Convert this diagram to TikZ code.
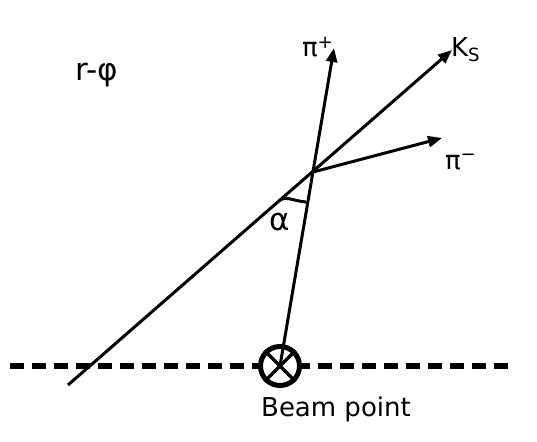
\documentclass[tikz,border=0pt]{standalone}
\usepackage{fontspec}
\setmainfont{DejaVu Sans}
\usetikzlibrary{arrows.meta}
\begin{document}
\begin{tikzpicture}[x=0.5pt,y=-0.5pt,font=\fontsize{13}{15}\selectfont,
  trk/.style={line width=1.5pt},
  trkarrow/.style={trk,-{Triangle[length=7pt,width=5.5pt]}},
  biglbl/.style={font=\fontsize{15.5}{18}\selectfont}]
\useasboundingbox (0,0) rectangle (537,441);
% beam line and beam point
\coordinate (bl) at (10,366);
\coordinate (br) at (510,366);
\draw[line width=3.2pt,dash pattern=on 7pt off 4pt](bl)--(br);
\node[circle,draw,line width=2.5pt,minimum size=19.5pt,inner sep=0pt,fill=white](beam) at (280,366){};
\draw[line width=1.6pt](beam.45)--(beam.225);
\draw[line width=1.6pt](beam.135)--(beam.315);
\node(lbeam) at (336,409){Beam point};
% tracks
\coordinate (vtx) at (313,172);
\coordinate (kstart) at (68,385);
\coordinate (kend) at (452,50);
\coordinate (pipend) at (334,48);
\coordinate (pimend) at (442,138);
\draw[trkarrow](kstart)--(kend);
\draw[trkarrow](beam.center)--(pipend);
\draw[trkarrow](vtx)--(pimend);
% opening angle
\draw[trk](279,201) .. controls (285,195) and (293,201) .. (306,202);
\node[biglbl](alpha) at (280,222){α};
% labels
\node(lks) at (466,50){K\textsubscript{S}};
\node(lpip) at (318,47){π\textsuperscript{+}};
\node(lpim) at (461,162){π\textsuperscript{−}};
\node[biglbl](lrphi) at (97,75){r-φ};
\end{tikzpicture}
\end{document}
